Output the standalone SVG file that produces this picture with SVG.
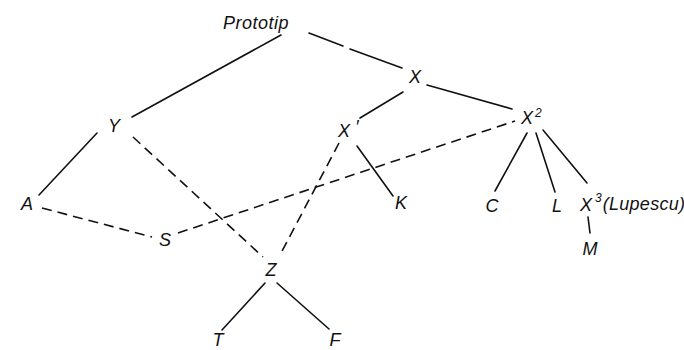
<svg xmlns="http://www.w3.org/2000/svg" width="684" height="350" viewBox="0 0 684 350">
<style>
.t{font-family:"Liberation Sans","DejaVu Sans",sans-serif;font-style:italic;font-size:18px;fill:#111;text-anchor:middle}
.s{font-family:"Liberation Sans","DejaVu Sans",sans-serif;font-style:italic;font-size:12px;fill:#111}
.l{stroke:#111;stroke-width:1.6;fill:none;stroke-linecap:round}
.d{stroke:#111;stroke-width:1.6;fill:none;stroke-dasharray:10 6}
</style>
<rect width="684" height="350" fill="#fff"/>
<g id="connectors">
<line class="l" x1="281" y1="35" x2="132" y2="117"/>
<line class="l" x1="309" y1="33" x2="343" y2="46"/>
<line class="l" x1="350" y1="49" x2="402" y2="68"/>
<line class="l" x1="403" y1="92" x2="360" y2="118"/>
<line class="l" x1="427" y1="85" x2="512" y2="109"/>
<line class="l" x1="357" y1="146" x2="393" y2="196"/>
<line class="d" x1="339" y1="143" x2="280" y2="255"/>
<line class="d" x1="133" y1="137" x2="263" y2="257"/>
<line class="l" x1="97" y1="133" x2="39" y2="195"/>
<line class="d" x1="42" y1="208" x2="152" y2="237"/>
<line class="d" x1="178" y1="233" x2="515" y2="121"/>
<line class="l" x1="527" y1="133" x2="495" y2="191"/>
<line class="l" x1="536" y1="133" x2="555" y2="192"/>
<line class="l" x1="543" y1="130" x2="587" y2="183"/>
<line class="l" x1="588" y1="217" x2="590" y2="233"/>
<line class="l" x1="265" y1="283" x2="222" y2="330"/>
<line class="l" x1="277" y1="283" x2="329" y2="329"/>
</g>
<g id="prototip"><text class="t" x="256" y="29" letter-spacing="0.5">Prototip</text></g>
<g id="x"><text class="t" x="415" y="83">X</text></g>
<g id="y"><text class="t" x="114" y="132">Y</text></g>
<g id="x1"><text class="t" x="344" y="137">X</text><text class="t" x="357" y="133" font-size="22">′</text></g>
<g id="x2"><text class="t" x="527" y="124">X</text><text class="s" x="535" y="117">2</text></g>
<g id="a"><text class="t" x="27" y="210">A</text></g>
<g id="s"><text class="t" x="165" y="246">S</text></g>
<g id="k"><text class="t" x="401" y="209">K</text></g>
<g id="c"><text class="t" x="492" y="212">C</text></g>
<g id="l"><text class="t" x="557" y="212">L</text></g>
<g id="x3"><text class="t" x="586" y="211">X</text><text class="s" x="595" y="202">3</text><text class="t" x="644" y="210" font-size="17" letter-spacing="0.3">(Lupescu)</text></g>
<g id="m"><text class="t" x="590" y="255">M</text></g>
<g id="z"><text class="t" x="271" y="276">Z</text></g>
<g id="t"><text class="t" x="218" y="346">T</text></g>
<g id="f"><text class="t" x="335" y="346">F</text></g>
</svg>
